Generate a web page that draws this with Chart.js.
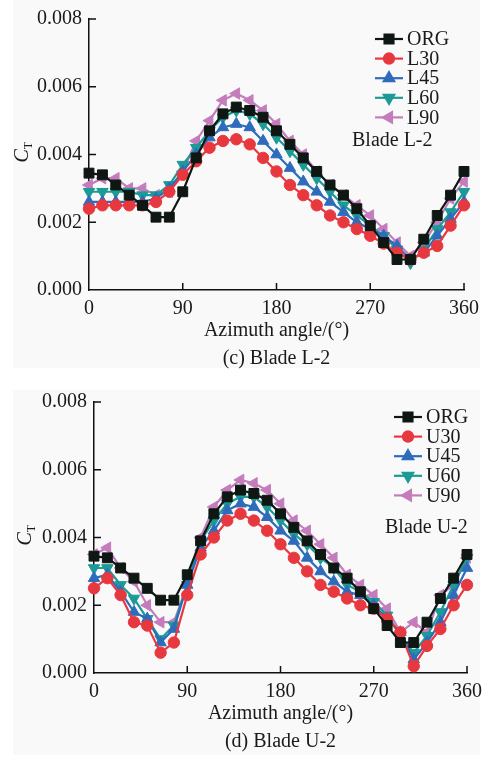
<!DOCTYPE html>
<html>
<head>
<meta charset="utf-8">
<script src="https://cdn.jsdelivr.net/npm/chart.js@4/dist/chart.umd.min.js"></script>
<style>
  body { margin: 0; background: #fff; width: 496px; height: 758px; position: relative; overflow: hidden; }
  .panel { position: absolute; left: 13px; width: 467px; background: #f9f9f9; }
  .box { position: absolute; left: 0; width: 496px; height: 375px; }
</style>
</head>
<body>
<div class="panel" style="top:0;height:368px"></div>
<div class="panel" style="top:390px;height:365px"></div>
<div class="box" style="top:0"><canvas id="chartL"></canvas></div>
<div class="box" style="top:383px"><canvas id="chartU"></canvas></div>
<script>
// azimuth positions (deg)
const angles = [0, 12.9, 25.7, 38.6, 51.4, 64.3, 77.1, 90, 102.9, 115.7, 128.6, 141.4, 154.3, 167.1,
                180, 192.9, 205.7, 218.6, 231.4, 244.3, 257.1, 270, 282.9, 295.7, 308.6, 321.4, 334.3, 347.1, 360];
const xTicks = [0, 90, 180, 270, 360];
const yTicks = [0, 0.002, 0.004, 0.006, 0.008];

// thrust coefficient CT
const ORG = [0.00345, 0.0034, 0.0031, 0.0028, 0.0025, 0.00215, 0.00215, 0.0029, 0.0039, 0.0047, 0.0052, 0.0054, 0.0053, 0.0051,
             0.0047, 0.0043, 0.0039, 0.0035, 0.0031, 0.0028, 0.0024, 0.0019, 0.0014, 0.0009, 0.0009, 0.0015, 0.0022, 0.0028, 0.0035];
const L30 = [0.0024, 0.0025, 0.0025, 0.0025, 0.0025, 0.0026, 0.0029, 0.0034, 0.0038, 0.0042, 0.0044, 0.00445, 0.0043, 0.0039,
             0.0035, 0.0031, 0.0028, 0.0025, 0.0022, 0.0020, 0.0018, 0.0016, 0.00137, 0.0011, 0.0009, 0.0011, 0.0013, 0.0019, 0.0025];
const L45 = [0.0026, 0.0026, 0.0026, 0.0026, 0.0026, 0.0027, 0.0030, 0.0035, 0.0040, 0.0045, 0.0048, 0.0049, 0.0048, 0.0044,
             0.0040, 0.0036, 0.0032, 0.0029, 0.0026, 0.0023, 0.0020, 0.0018, 0.0016, 0.0013, 0.0009, 0.0011, 0.0016, 0.0021, 0.0026];
const L60 = [0.0029, 0.0029, 0.0029, 0.0029, 0.0028, 0.0028, 0.0031, 0.0037, 0.0042, 0.0047, 0.0051, 0.0053, 0.0052, 0.0049,
             0.0045, 0.0041, 0.0037, 0.0033, 0.0029, 0.0025, 0.0022, 0.0019, 0.0016, 0.0012, 0.0008, 0.0012, 0.0018, 0.0023, 0.0029];
const L90 = [0.0031, 0.0033, 0.0033, 0.0030, 0.0030, 0.0028, 0.0029, 0.0035, 0.0044, 0.0050, 0.0056, 0.0058, 0.0056, 0.0053,
             0.0049, 0.0044, 0.0040, 0.0035, 0.0031, 0.0028, 0.0025, 0.0022, 0.0018, 0.0014, 0.0010, 0.0014, 0.0020, 0.0027, 0.0032];
const U30 = [0.0025, 0.0028, 0.0023, 0.0015, 0.0014, 0.0006, 0.0009, 0.0023, 0.0035, 0.0040, 0.0045, 0.0047, 0.0045, 0.0042,
             0.0038, 0.0034, 0.0030, 0.0026, 0.0024, 0.0022, 0.0020, 0.0019, 0.0016, 0.0012, 0.0002, 0.0008, 0.0013, 0.0020, 0.0026];
const U45 = [0.0028, 0.0029, 0.0024, 0.0018, 0.0016, 0.0009, 0.0013, 0.0026, 0.0037, 0.0042, 0.0048, 0.0050, 0.0049, 0.0046,
             0.0042, 0.0039, 0.0034, 0.0030, 0.0027, 0.0024, 0.0023, 0.0020, 0.0016, 0.0012, 0.0004, 0.0009, 0.0015, 0.0023, 0.0031];
const U60 = [0.0031, 0.0031, 0.0026, 0.0022, 0.0016, 0.0010, 0.0014, 0.0026, 0.0039, 0.0045, 0.0050, 0.0052, 0.0052, 0.0049,
             0.0045, 0.0041, 0.0038, 0.0034, 0.0031, 0.0026, 0.0024, 0.0021, 0.0017, 0.0011, 0.0006, 0.0011, 0.0018, 0.0026, 0.0034];
const U90 = [0.0035, 0.0037, 0.0031, 0.0027, 0.0020, 0.0015, 0.0015, 0.0026, 0.0040, 0.0049, 0.0054, 0.0057, 0.0056, 0.0054,
             0.0050, 0.0045, 0.0042, 0.0038, 0.0034, 0.0029, 0.0026, 0.0023, 0.0019, 0.0012, 0.0015, 0.0012, 0.0023, 0.0026, 0.0034];

const SERIF = "'Liberation Serif', 'DejaVu Serif', serif";
const TXT = '#1a1a1a';

// series look: colour, marker, rotation, radius
const styles = [
    { color: '#0f1713', style: 'rect', rot: 0, r: 7 },
    { color: '#e8383f', style: 'circle', rot: 0, r: 5.7 },
    { color: '#2e6cbb', style: 'triangle', rot: 0, r: 6.6 },
    { color: '#1b9a96', style: 'triangle', rot: 180, r: 6.6 },
    { color: '#c47cbd', style: 'triangle', rot: -90, r: 6.6 }
];

function toPoints(vals) {
    return angles.map((a, i) => ({ x: a, y: vals[i] }));
}

// inward ticks, axis titles, caption and legend drawn on the canvas
const decorPlugin = {
    id: 'decor',
    afterDraw(chart, args, opts) {
        const ctx = chart.ctx;
        const xs = chart.scales.x, ys = chart.scales.y;
        const area = chart.chartArea;
        ctx.save();
        ctx.strokeStyle = '#111';
        ctx.lineWidth = 1.5;
        ctx.beginPath();
        yTicks.slice(1).forEach(v => {
            const y = ys.getPixelForValue(v);
            ctx.moveTo(area.left, y);
            ctx.lineTo(area.left + 7, y);
        });
        xTicks.slice(1).forEach(v => {
            const x = xs.getPixelForValue(v);
            ctx.moveTo(x, area.bottom);
            ctx.lineTo(x, area.bottom - 7);
        });
        ctx.stroke();

        // y title C_T
        ctx.fillStyle = TXT;
        ctx.save();
        ctx.translate(opts.yTitleX, (area.top + area.bottom) / 2 + 8);
        ctx.rotate(-Math.PI / 2);
        ctx.textBaseline = 'alphabetic';
        ctx.textAlign = 'left';
        ctx.font = 'italic 20px ' + SERIF;
        ctx.fillText('C', 0, 0);
        const cw = ctx.measureText('C').width;
        ctx.font = '12px ' + SERIF;
        ctx.fillText('T', cw, 4);
        ctx.restore();

        // x title and caption
        ctx.textAlign = 'center';
        ctx.textBaseline = 'middle';
        ctx.font = '20px ' + SERIF;
        const cx = (area.left + area.right) / 2;
        ctx.fillText('Azimuth angle/(\u00B0)', cx, area.bottom + 41);
        ctx.fillText(opts.caption, cx, area.bottom + 69);

        // legend with line + marker
        ctx.textAlign = 'left';
        chart.data.datasets.forEach((ds, i) => {
            const y = opts.legY + i * 19.6;
            const x0 = opts.legX;
            ctx.strokeStyle = ds.borderColor;
            ctx.lineWidth = 2.2;
            ctx.beginPath();
            ctx.moveTo(x0, y);
            ctx.lineTo(x0 + 28, y);
            ctx.stroke();
            ctx.fillStyle = ds.borderColor;
            Chart.helpers.drawPoint(ctx, {
                pointStyle: ds.pointStyle, rotation: ds.pointRotation,
                radius: ds.pointRadius * 0.9, borderWidth: 1
            }, x0 + 14, y);
            ctx.fillStyle = TXT;
            ctx.fillText(ds.label, x0 + 32, y + 1);
        });
        ctx.fillText(opts.blade, opts.bladeX, opts.bladeY);
        ctx.restore();
    }
};

function makeChart(id, names, series, cfg) {
    const datasets = series.map((vals, i) => {
        const s = styles[i];
        return {
            label: names[i],
            data: toPoints(vals),
            borderColor: s.color,
            backgroundColor: s.color,
            borderWidth: 2.2,
            pointStyle: s.style,
            pointRotation: s.rot,
            pointRadius: s.r,
            pointBorderWidth: 1,
            pointHoverRadius: s.r,
            tension: 0,
            clip: false
        };
    });
    const tickFont = { family: SERIF, size: 20 };
    return new Chart(document.getElementById(id), {
        type: 'line',
        data: { datasets: datasets },
        plugins: [decorPlugin],
        options: {
            responsive: true,
            maintainAspectRatio: false,
            animation: false,
            layout: { padding: { top: 15, right: cfg.padRight, bottom: 0, left: 0 } },
            scales: {
                x: {
                    type: 'linear', min: 0, max: 360,
                    afterFit: s => { s.height = 85; },
                    afterBuildTicks: s => { s.ticks = xTicks.map(v => ({ value: v })); },
                    grid: { display: false, drawTicks: false },
                    border: { display: true, color: '#111', width: 1.5 },
                    ticks: { font: tickFont, color: TXT, padding: 7, maxRotation: 0 }
                },
                y: {
                    min: 0, max: 0.008,
                    afterFit: s => { s.width = cfg.yWidth; },
                    afterBuildTicks: s => { s.ticks = yTicks.map(v => ({ value: v })); },
                    grid: { display: false, drawTicks: false },
                    border: { display: true, color: '#111', width: 1.5 },
                    ticks: { font: tickFont, color: TXT, padding: 7, callback: v => v.toFixed(3) }
                }
            },
            plugins: {
                legend: { display: false },
                tooltip: { enabled: false },
                decor: cfg.decor
            }
        }
    });
}

makeChart('chartL', ['ORG', 'L30', 'L45', 'L60', 'L90'], [ORG, L30, L45, L60, L90], {
    padRight: 32, yWidth: 89,
    decor: { yTitleX: 28, caption: '(c) Blade L-2', legX: 375, legY: 39, blade: 'Blade L-2', bladeX: 352, bladeY: 141 }
});
makeChart('chartU', ['ORG', 'U30', 'U45', 'U60', 'U90'], [ORG, U30, U45, U60, U90], {
    padRight: 29, yWidth: 94,
    decor: { yTitleX: 31, caption: '(d) Blade U-2', legX: 394, legY: 34, blade: 'Blade U-2', bladeX: 385, bladeY: 145 }
});
</script>
</body>
</html>
